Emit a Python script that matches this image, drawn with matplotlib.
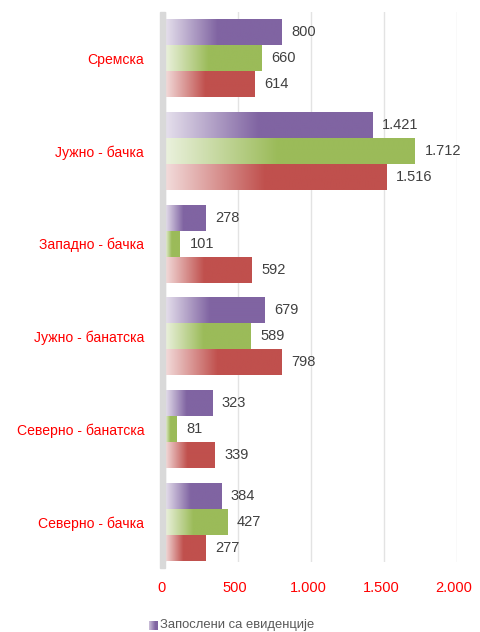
import numpy as np
import matplotlib
matplotlib.use('Agg')
import matplotlib.pyplot as plt
from matplotlib.colors import to_rgb
from matplotlib.patches import Rectangle
from matplotlib.transforms import ScaledTranslation

plt.rcParams['font.family'] = ['Liberation Sans', 'DejaVu Sans']

regions = ['Сремска', 'Јужно - бачка', 'Западно - бачка', 'Јужно - банатска',
           'Северно - банатска', 'Северно - бачка']
purple_vals = [800, 1421, 278, 679, 323, 384]
green_vals = [660, 1712, 101, 589, 81, 427]
red_vals = [614, 1516, 592, 798, 339, 277]
xticks = [0, 500, 1000, 1500, 2000]
legend_label = 'Запослени са евиденције'

series = [(purple_vals, '#8064A2', -0.28),
          (green_vals, '#9BBB59', 0.0),
          (red_vals, '#C0504D', 0.28)]
bar_h = 0.28


def gradient(color, n=200, frac=0.45, light=0.8):
    c = np.array(to_rgb(color))
    t = np.linspace(0, 1, n)
    k = np.clip(t / frac, 0, 1)
    w = light * (1 - k)
    rgb = c[None, :] * (1 - w[:, None]) + w[:, None]
    return rgb[None, :, :]


fig = plt.figure(figsize=(4.8, 6.32), dpi=100)
W, H = 480, 632
ax = fig.add_axes([165 / W, 1 - 562 / H, (457 - 165) / W, (562 - 12) / H])

for vals, col, off in series:
    img = gradient(col)
    for i, v in enumerate(vals):
        y = i + off
        ax.imshow(img, extent=(0, v, y + bar_h / 2, y - bar_h / 2),
                  aspect='auto', interpolation='bilinear', zorder=2)
        lab = f'{v:,}'.replace(',', '.')
        ax.annotate(lab, (v, y), xytext=(7, 0), textcoords='offset points',
                    va='center', ha='left', fontsize=10.5, color='#404040')

ax.set_xlim(0, 2000)
ax.set_ylim(5.431, -0.496)
ax.set_xticks(xticks)
ax.set_xticklabels([f'{t:,}'.replace(',', '.') for t in xticks],
                   color='#FF0000', fontsize=10.5)
ax.set_yticks(range(len(regions)))
ax.set_yticklabels(regions, color='#FF0000', fontsize=10.1)
ax.tick_params(axis='both', length=0)
ax.tick_params(axis='x', pad=14)
ax.tick_params(axis='y', pad=15)
shift = ScaledTranslation(-3 / 100, 0, fig.dpi_scale_trans)
for lbl in ax.get_xticklabels():
    lbl.set_transform(lbl.get_transform() + shift)
ax.grid(axis='x', color='#e3e3e3', linewidth=1)
ax.set_axisbelow(True)
for s in ax.spines.values():
    s.set_visible(False)

# side wall
fig.patches.append(Rectangle((160 / W, 1 - 568 / H), 5 / W, (568 - 12) / H,
                             transform=fig.transFigure, color='#d9d9d9',
                             zorder=0))

# legend
lax = fig.add_axes([149 / W, 1 - 630 / H, 9 / W, 9 / H])
lax.imshow(gradient('#8064A2', frac=0.7, light=0.6), aspect='auto',
           interpolation='bilinear')
lax.axis('off')
fig.text(160 / W, 1 - 625 / H, legend_label, fontsize=9.4, color='#595959',
         va='center', ha='left')

fig.savefig('out.png', dpi=100)
